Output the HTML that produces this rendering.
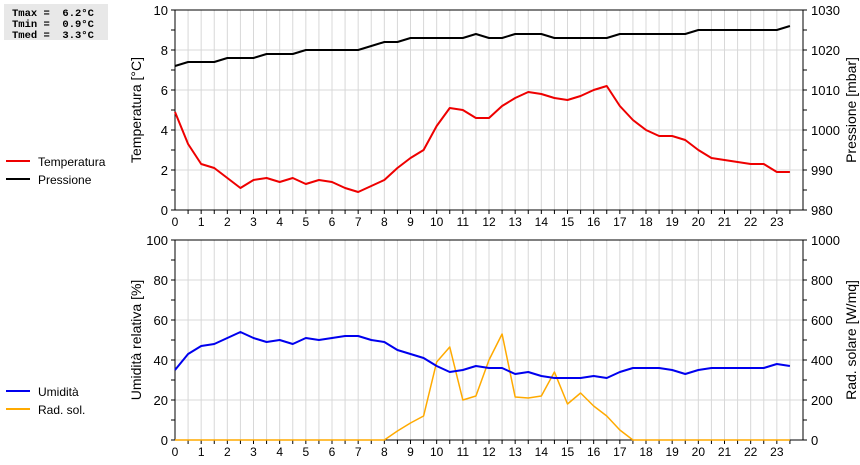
<!DOCTYPE html>
<html><head><meta charset="utf-8"><style>
body{margin:0;background:#fff;width:860px;height:460px;overflow:hidden}
svg{font-family:"Liberation Sans",sans-serif}
</style></head><body>
<svg id="c" width="860" height="460">
<rect x="4" y="4" width="104" height="36" fill="#e8e8e8"/>
<text x="12" y="16" font-family="Liberation Mono,monospace" font-size="10.5" font-weight="bold" xml:space="preserve">Tmax =  6.2°C</text>
<text x="12" y="27" font-family="Liberation Mono,monospace" font-size="10.5" font-weight="bold" xml:space="preserve">Tmin =  0.9°C</text>
<text x="12" y="38" font-family="Liberation Mono,monospace" font-size="10.5" font-weight="bold" xml:space="preserve">Tmed =  3.3°C</text>
<g>
<line x1="6" y1="161" x2="30" y2="161" stroke="#e00" stroke-width="2"/><text x="38" y="166" font-size="12">Temperatura</text>
<line x1="6" y1="179" x2="30" y2="179" stroke="#000" stroke-width="2"/><text x="38" y="184" font-size="12">Pressione</text>
</g>
<g>
<line x1="6" y1="391" x2="30" y2="391" stroke="#00e" stroke-width="2"/><text x="38" y="396" font-size="12">Umidità</text>
<line x1="6" y1="409" x2="30" y2="409" stroke="#fa0" stroke-width="2"/><text x="38" y="414" font-size="12">Rad. sol.</text>
</g>
<g id="g"></g>
</svg>
<script>
const hours=[0,0.5,1,1.5,2,2.5,3,3.5,4,4.5,5,5.5,6,6.5,7,7.5,8,8.5,9,9.5,10,10.5,11,11.5,12,12.5,13,13.5,14,14.5,15,15.5,16,16.5,17,17.5,18,18.5,19,19.5,20,20.5,21,21.5,22,22.5,23,23.5];
const temperature=[4.9,3.3,2.3,2.1,1.6,1.1,1.5,1.6,1.4,1.6,1.3,1.5,1.4,1.1,0.9,1.2,1.5,2.1,2.6,3.0,4.2,5.1,5.0,4.6,4.6,5.2,5.6,5.9,5.8,5.6,5.5,5.7,6.0,6.2,5.2,4.5,4.0,3.7,3.7,3.5,3.0,2.6,2.5,2.4,2.3,2.3,1.9,1.9];
const pressure=[1016,1017,1017,1017,1018,1018,1018,1019,1019,1019,1020,1020,1020,1020,1020,1021,1022,1022,1023,1023,1023,1023,1023,1024,1023,1023,1024,1024,1024,1023,1023,1023,1023,1023,1024,1024,1024,1024,1024,1024,1025,1025,1025,1025,1025,1025,1025,1026];
const humidity=[35,43,47,48,51,54,51,49,50,48,51,50,51,52,52,50,49,45,43,41,37,34,35,37,36,36,33,34,32,31,31,31,32,31,34,36,36,36,35,33,35,36,36,36,36,36,38,37];
const radiation=[0,0,0,0,0,0,0,0,0,0,0,0,0,0,0,0,0,45,85,120,390,465,200,220,400,530,215,210,220,340,180,235,170,120,50,0,0,0,0,0,0,0,0,0,0,0,0,0];
const xTicks=[0,1,2,3,4,5,6,7,8,9,10,11,12,13,14,15,16,17,18,19,20,21,22,23];
const tempTicks=[0,2,4,6,8,10];
const presTicks=[980,990,1000,1010,1020,1030];
const humTicks=[0,20,40,60,80,100];
const radTicks=[0,200,400,600,800,1000];
const NS='http://www.w3.org/2000/svg',G=document.getElementById('g');
const X0=175,X1=803,PH=(X1-X0)/24;
const xs=h=>X0+h*PH;
function el(t,a,p){const e=document.createElementNS(NS,t);for(const k in a)e.setAttribute(k,a[k]);(p||G).appendChild(e);return e;}
function panel(pTop,pBot,lmin,lmax,lt,rmin,rmax,rt,ltitle,rtitle,name){
 const ly=v=>pBot-(v-lmin)/(lmax-lmin)*(pBot-pTop), ry=v=>pBot-(v-rmin)/(rmax-rmin)*(pBot-pTop);
 const g=el('g',{});
 
 
 for(let h=0.5;h<24;h+=0.5)el('line',{x1:xs(h),x2:xs(h),y1:pTop,y2:pBot,stroke:'#d8d8d8'},g);
 lt.forEach(v=>el('line',{x1:X0,x2:X1,y1:ly(v),y2:ly(v),stroke:'#d8d8d8'},g));
 el('rect',{x:X0,y:pTop,width:X1-X0,height:pBot-pTop,fill:'none',stroke:'#000'},g);
 const step=lt[1]-lt[0];
 for(let v=lmin;v<=lmax+1e-9;v+=step/2){el('line',{x1:X0-4,x2:X0,y1:ly(v),y2:ly(v),stroke:'#000'},g);}
 const rs=rt[1]-rt[0];
 for(let v=rmin;v<=rmax+1e-9;v+=rs/2){el('line',{x1:X1,x2:X1+4,y1:ry(v),y2:ry(v),stroke:'#000'},g);}
 for(let h=0.5;h<24;h+=0.5)el('line',{x1:xs(h),x2:xs(h),y1:pBot,y2:pBot+4,stroke:'#000'},g);
 lt.forEach(v=>{const t=el('text',{x:X0-7,y:ly(v)+5,'text-anchor':'end','font-size':13},g);t.textContent=v;
  });
 rt.forEach(v=>{const t=el('text',{x:X1+8,y:ry(v)+5,'font-size':13},g);t.textContent=v;
  });
 xTicks.forEach(h=>{const t=el('text',{x:xs(h),y:pBot+16,'text-anchor':'middle','font-size':12},g);t.textContent=h;
  });
 const mid=(pTop+pBot)/2;
 const a=el('text',{x:0,y:0,transform:`translate(141,${mid}) rotate(-90)`,'text-anchor':'middle','font-size':14},g);a.textContent=ltitle;
 
 const b=el('text',{x:0,y:0,transform:`translate(856,${mid}) rotate(-90)`,'text-anchor':'middle','font-size':14},g);b.textContent=rtitle;
 
 return {ly,ry,g};
}
function line(vals,f,color,w,name,g){
 const p=el('polyline',{points:vals.map((v,i)=>xs(hours[i])+','+f(v)).join(' '),fill:'none',stroke:color,'stroke-width':w,'stroke-linejoin':'round'},g);
 
 
}
const topPanel=panel(10,210,0,10,tempTicks,980,1030,presTicks,'Temperatura [°C]','Pressione [mbar]','top-panel');
line(pressure,topPanel.ry,'#000',2,'pressure-line',topPanel.g);
line(temperature,topPanel.ly,'#e00',2,'temperature-line',topPanel.g);
const botPanel=panel(240,440,0,100,humTicks,0,1000,radTicks,'Umidità relativa [%]','Rad. solare [W/mq]','bottom-panel');
line(radiation,botPanel.ry,'#fa0',1.5,'radiation-line',botPanel.g);
line(humidity,botPanel.ly,'#00e',2,'humidity-line',botPanel.g);
</script>
</body></html>
